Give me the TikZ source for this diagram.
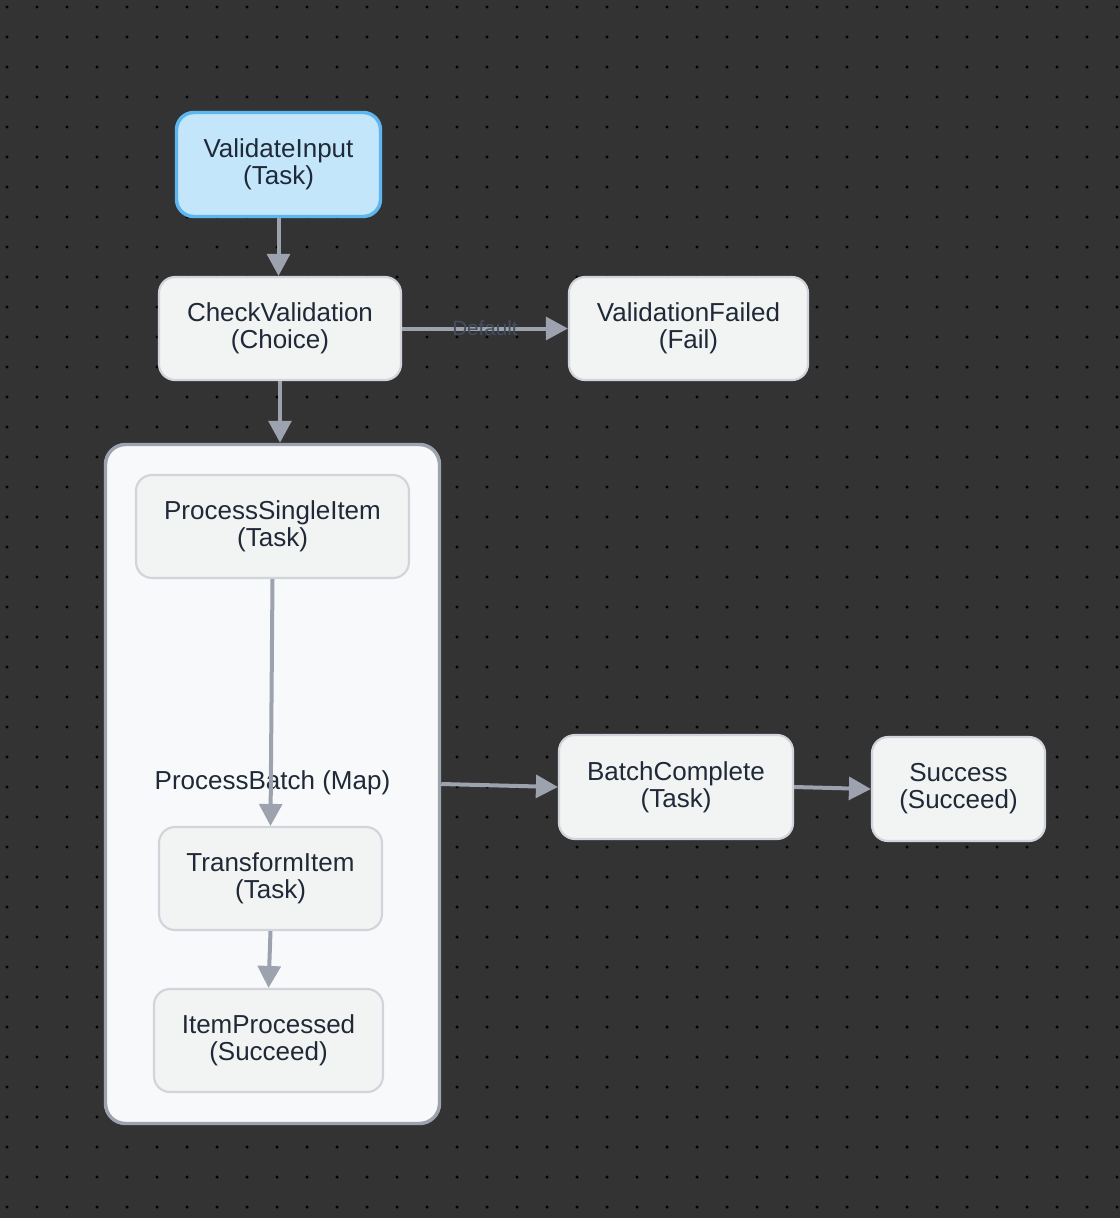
\documentclass[tikz,border=0pt]{standalone}
\usepackage{fontspec}
\setmainfont{Liberation Sans}
\usetikzlibrary{arrows.meta}
\definecolor{bgc}{HTML}{333333}
\definecolor{dotc}{HTML}{000000}
\definecolor{vifill}{HTML}{C4E6FA}
\definecolor{viline}{HTML}{5DB6F0}
\definecolor{nfill}{HTML}{F2F3F3}
\definecolor{nline}{HTML}{D1D5DB}
\definecolor{mfill}{HTML}{F8F9FA}
\definecolor{mline}{HTML}{9CA3AF}
\definecolor{arrc}{HTML}{9CA3AF}
\definecolor{txtc}{HTML}{1F2937}
\definecolor{lblc}{HTML}{444D5E}
\tikzset{
  statebox/.style={draw=nline, fill=nfill, line width=1.6pt, rounded corners=12pt,
    align=center, text=txtc, font=\fontsize{19.5pt}{20.25pt}\selectfont, inner sep=0pt},
  startbox/.style={statebox, draw=viline, fill=vifill, line width=2.6pt, rounded corners=13pt},
  mapbox/.style={draw=mline, fill=mfill, line width=2.6pt, rounded corners=15pt, inner sep=0pt},
  arr/.style={draw=arrc, line width=3pt, -{Triangle[length=16.5pt,width=17pt]}},
}
\begin{document}
\begin{tikzpicture}[x=0.75pt,y=-0.75pt]
\useasboundingbox (0,0) rectangle (1120,1218);
\fill[bgc] (0,0) rectangle (1120,1218);
\foreach \i in {0,...,37}{
  \foreach \j in {0,...,40}{
    \fill[dotc] (7+30*\i,7+30*\j) circle (1.3pt);
  }
}
% nodes
\node[startbox, minimum width=204*0.75pt, minimum height=104*0.75pt] (vi) at (278.5,164.5) {ValidateInput\\(Task)};
\node[statebox, minimum width=242*0.75pt, minimum height=103*0.75pt] (cv) at (280,328.5) {CheckValidation\\(Choice)};
\node[statebox, minimum width=239*0.75pt, minimum height=103*0.75pt] (vf) at (688.5,328.5) {ValidationFailed\\(Fail)};
\node[mapbox, minimum width=334*0.75pt, minimum height=679*0.75pt] (map) at (272.5,784) {};
\node[statebox, minimum width=273*0.75pt, minimum height=103*0.75pt] (psi) at (272.5,526.5) {ProcessSingleItem\\(Task)};
\node[statebox, minimum width=223*0.75pt, minimum height=103*0.75pt] (ti) at (270.5,878.5) {TransformItem\\(Task)};
\node[statebox, minimum width=229*0.75pt, minimum height=103*0.75pt] (ip) at (268.5,1040.5) {ItemProcessed\\(Succeed)};
\node[statebox, minimum width=234*0.75pt, minimum height=104*0.75pt] (bc) at (676,787) {BatchComplete\\(Task)};
\node[statebox, minimum width=173*0.75pt, minimum height=104*0.75pt] (sc) at (958.5,789) {Success\\(Succeed)};
\node[text=txtc, font=\fontsize{19.5pt}{20.25pt}\selectfont, inner sep=0pt] (maplbl) at (272.5,783) {ProcessBatch (Map)};
% connectors
\draw[arr] (vi.south) -- (vi.south |- cv.north);
\draw[arr] (cv.east) -- node[text=lblc, font=\fontsize{15.5pt}{16pt}\selectfont, inner sep=0pt] (dl) {Default} (vf.west);
\draw[arr] (cv.south) -- (cv.south |- map.north);
\draw[arr] (psi.south) -- (ti.north);
\draw[arr] (ti.south) -- (ip.north);
\draw[arr] (map.east) -- (bc.west);
\draw[arr] (bc.east) -- (sc.west);
\end{tikzpicture}
\end{document}
